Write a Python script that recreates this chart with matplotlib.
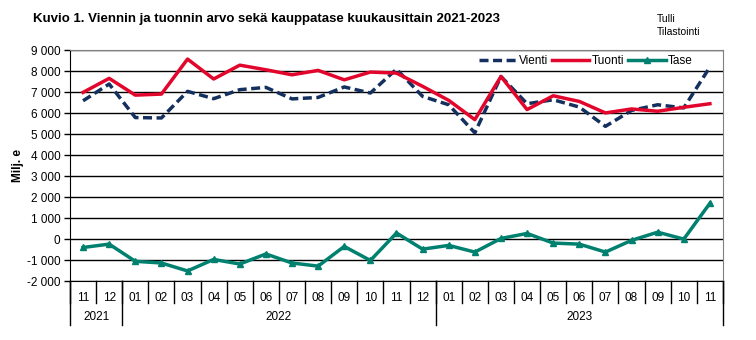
import matplotlib.pyplot as plt
import matplotlib.transforms as mtransforms

plt.rcParams['font.family'] = ['Liberation Sans', 'DejaVu Sans']

months = ['11', '12', '01', '02', '03', '04', '05', '06', '07', '08', '09', '10',
          '11', '12', '01', '02', '03', '04', '05', '06', '07', '08', '09', '10', '11']
years = ['2021', '2022', '2023']
year_counts = [2, 12, 11]  # months per year on the axis

# Milj. e
vienti = [6600, 7400, 5800, 5780, 7050, 6700, 7130, 7240, 6690, 6760, 7260, 6970,
          8110, 6810, 6410, 5070, 7760, 6460, 6650, 6300, 5380, 6140, 6410, 6260, 8210]
tuonti = [7000, 7670, 6870, 6920, 8590, 7640, 8300, 8080, 7840, 8050, 7600, 7970,
          7920, 7290, 6620, 5700, 7760, 6180, 6840, 6570, 6020, 6210, 6100, 6290, 6460]
tase = [-400, -240, -1060, -1140, -1520, -970, -1190, -710, -1140, -1290, -350, -1020,
        290, -480, -300, -620, 30, 270, -190, -240, -620, -60, 330, 0, 1710]

fig = plt.figure(figsize=(7.56, 3.4), dpi=100)
ax = fig.add_axes([0.0926, 0.1735, 0.8637, 0.678])

x = list(range(len(months)))
ax.plot(x, vienti, color='#14305e', lw=2.5, ls=(0, (2.6, 1.3)), label='Vienti', zorder=3)
ax.plot(x, tuonti, color='#e2062c', lw=2.5, label='Tuonti', zorder=3)
ax.plot(x, tase, color='#00806e', lw=2.5, marker='^', ms=5, label='Tase', zorder=3)

ax.set_xlim(-0.5, len(months) - 0.5)
ax.set_ylim(-2000, 9000)
yt = list(range(-2000, 9001, 1000))
ax.set_yticks(yt)
ax.set_yticklabels([f'{v:,}'.replace(',', ' ') for v in yt], fontsize=8.5)
ax.yaxis.grid(True, color='black', lw=1)
ax.set_axisbelow(True)
ax.tick_params(axis='y', length=4, width=1, color='black', pad=3)

ax.set_xticks(x)
ax.set_xticklabels(months, fontsize=8.5)
ax.tick_params(axis='x', length=0, pad=8)

for s in ['top', 'right']:
    ax.spines[s].set_color('#808080')
ax.spines['left'].set_color('black')
ax.spines['bottom'].set_color('black')

# category separators below the axis
trans = mtransforms.blended_transform_factory(ax.transData, ax.transAxes)
for i in range(len(months) + 1):
    ax.plot([i - 0.5, i - 0.5], [0, -0.095], transform=trans, color='black', lw=1, clip_on=False)
start = 0
for yr, n in zip(years, year_counts):
    ax.plot([start - 0.5, start - 0.5], [0, -0.19], transform=trans, color='black', lw=1, clip_on=False)
    ax.text(start + (n - 1) / 2, -0.155, yr, transform=trans, ha='center', va='center', fontsize=8.5)
    start += n
ax.plot([start - 0.5, start - 0.5], [0, -0.19], transform=trans, color='black', lw=1, clip_on=False)

ax.set_ylabel('Milj. e', fontsize=8.5, fontweight='bold', labelpad=2)

ax.legend(loc='upper right', ncol=3, frameon=False, fontsize=8.5, handlelength=3.2,
          columnspacing=0.3, handletextpad=0.2, bbox_to_anchor=(0.97, 1.025))

fig.text(0.044, 0.945, 'Kuvio 1. Viennin ja tuonnin arvo sekä kauppatase kuukausittain 2021-2023',
         fontsize=9.5, fontweight='bold', va='center')
fig.text(0.869, 0.945, 'Tulli', fontsize=7.5, va='center')
fig.text(0.869, 0.907, 'Tilastointi', fontsize=7.5, va='center')

fig.savefig('out.png', dpi=100)
